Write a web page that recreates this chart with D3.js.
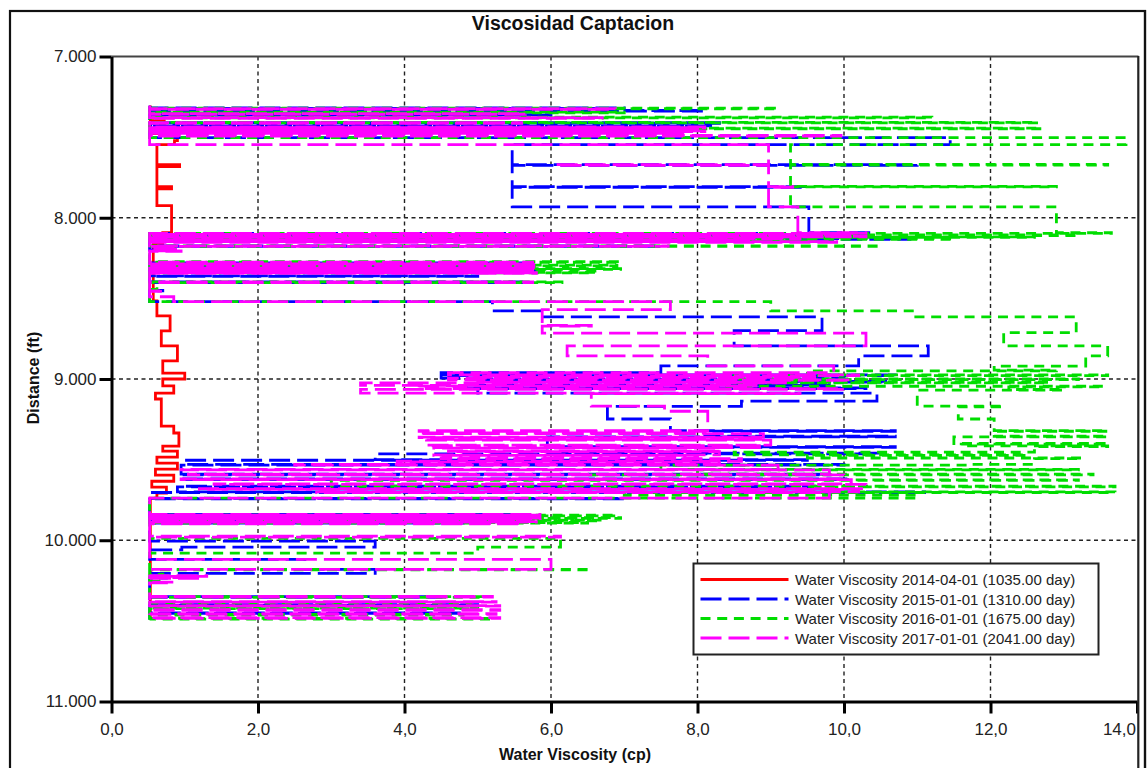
<!DOCTYPE html>
<html>
<head>
<meta charset="utf-8">
<script src="https://cdn.jsdelivr.net/npm/d3@7"></script>
<style>
  body { margin: 0; background: #fff; }
  svg { display: block; }
  text { font-family: Arial, "Liberation Sans", sans-serif; }
</style>
</head>
<body>
<svg id="chart" width="1147" height="768"></svg>
<script>
// Axis ticks
const distTicks = [7, 8, 9, 10, 11];
const viscTicks = [0, 2, 4, 6, 8, 10, 12, 14];

// Legend labels
const seriesLabels = [
  "Water Viscosity 2014-04-01 (1035.00 day)",
  "Water Viscosity 2015-01-01 (1310.00 day)",
  "Water Viscosity 2016-01-01 (1675.00 day)",
  "Water Viscosity 2017-01-01 (2041.00 day)"
];

// Profiles: [distance (ft), water viscosity (cp)] — each value holds from its distance down to the next one
const visc2014 = [
  [7.304,0.53],[7.398,0.72],[7.447,0.55],[7.478,0.9],[7.522,0.86],[7.547,0.62],
  [7.671,0.93],[7.683,0.62],[7.807,0.82],[7.82,0.62],[7.925,0.82],[8.093,0.70],
  [8.16,0.57],[8.516,0.62],[8.609,0.8],[8.702,0.68],[8.795,0.9],[8.888,0.7],
  [8.963,1.0],[9.0,0.7],[9.043,0.85],[9.087,0.6],[9.124,0.68],[9.292,0.85],
  [9.335,0.92],[9.416,0.7],[9.447,0.9],[9.484,0.62],[9.522,0.9],[9.559,0.6],
  [9.596,0.85],[9.634,0.55],[9.671,0.75],[9.708,0.62],[9.739,0.53],[10.491,0.53]
];

const visc2015 = [
  [7.305,0.52],[7.318,7.0],[7.322,0.52],[7.335,8.1],[7.339,0.52],[7.36,6.0],[7.364,0.52],
  [7.41,8.3],[7.414,0.52],[7.43,8.2],[7.434,0.52],[7.47,7.6],[7.474,0.52],
  [7.503,11.45],[7.547,5.47],[7.671,11.0],[7.675,5.47],[7.807,9.5],[7.811,5.47],
  [7.932,9.52],[8.093,10.4],[8.097,0.52],
  [8.104,10.2],[8.108,0.52],[8.118,9.8],[8.122,0.52],[8.13,10.9],[8.134,0.52],
  [8.174,7.5],[8.178,0.52],[8.2,0.8],[8.204,0.52],
  [8.28,5.7],[8.284,0.52],[8.3,5.5],[8.304,0.52],[8.33,5.8],[8.334,0.52],
  [8.36,5.0],[8.364,0.52],[8.398,5.6],[8.402,0.52],[8.45,0.7],[8.454,0.52],
  [8.52,5.2],[8.578,5.88],[8.615,9.7],[8.70,8.5],[8.795,11.15],[8.857,10.2],
  [8.919,7.5],[8.96,4.5],
  [8.975,10.7],[8.979,4.5],[8.995,10.0],[8.999,5.1],[9.015,10.6],[9.019,5.2],
  [9.035,9.8],[9.039,4.8],[9.055,10.3],[9.059,5.0],[9.087,10.45],[9.137,8.6],
  [9.17,6.77],[9.248,7.63],
  [9.32,10.7],[9.324,8.1],[9.355,10.7],[9.359,5.95],[9.42,10.7],[9.424,5.95],
  [9.46,10.5],[9.464,3.6],[9.50,9.5],[9.504,1.0],[9.53,10.0],[9.534,0.95],
  [9.59,9.8],[9.594,0.95],[9.62,10.1],[9.624,1.0],[9.665,9.6],[9.669,0.9],
  [9.70,11.1],[9.704,0.52],[9.74,7.0],[9.744,0.52],
  [9.84,5.5],[9.844,0.52],[9.87,5.2],[9.874,0.52],[9.89,4.8],[9.894,0.52],
  [10.006,3.6],[10.043,0.96],[10.06,0.52],[10.118,2.64],[10.18,3.6],[10.205,0.52],
  [10.23,0.75],[10.234,0.52],
  [10.35,4.5],[10.354,0.52],[10.40,5.0],[10.404,0.52],[10.45,4.8],[10.454,0.52],
  [10.491,0.52]
];

const visc2016 = [
  [7.31,0.52],[7.32,9.1],[7.324,0.52],[7.345,7.0],[7.349,0.52],[7.376,11.2],[7.38,0.52],
  [7.408,12.65],[7.412,0.52],[7.444,12.7],[7.448,0.52],[7.466,7.5],[7.47,0.52],
  [7.503,13.85],[7.547,9.27],[7.669,13.6],[7.673,9.27],[7.805,12.9],[7.809,9.27],
  [7.932,12.9],
  [8.093,13.65],[8.097,0.52],[8.106,13.2],[8.11,0.52],[8.118,12.6],[8.122,0.52],
  [8.13,11.5],[8.134,0.52],[8.142,9.6],[8.146,0.52],[8.174,10.5],[8.178,0.52],
  [8.272,6.95],[8.276,0.52],[8.294,6.9],[8.298,0.52],[8.316,6.95],[8.32,0.52],
  [8.338,6.6],[8.342,0.52],[8.398,6.15],[8.402,0.52],[8.44,0.62],[8.445,0.52],
  [8.52,9.0],[8.578,10.98],[8.615,13.17],[8.712,12.18],[8.795,13.6],[8.857,13.3],
  [8.92,12.05],[8.945,12.9],[8.95,9.5],
  [8.975,13.6],[8.979,8.5],[9.00,13.2],[9.004,9.0],[9.02,12.8],[9.024,8.3],
  [9.045,13.55],[9.049,12.25],[9.065,13.0],[9.069,11.0],[9.168,12.18],[9.172,11.56],
  [9.248,12.05],
  [9.32,13.6],[9.324,12.05],[9.355,13.6],[9.359,11.5],[9.40,13.6],[9.404,11.6],
  [9.415,13.6],[9.419,12.6],[9.45,12.6],[9.454,8.5],[9.47,12.5],[9.474,9.5],
  [9.49,13.25],[9.494,12.6],[9.53,11.7],[9.534,7.5],[9.56,13.2],[9.564,8.0],
  [9.59,13.4],[9.594,6.5],[9.625,13.2],[9.629,3.0],[9.665,13.7],[9.669,9.5],
  [9.70,13.7],[9.704,7.0],[9.72,11.0],[9.739,0.52],
  [9.845,6.9],[9.849,0.52],[9.86,6.95],[9.864,0.52],[9.875,6.7],[9.879,0.52],
  [9.89,6.5],[9.894,0.52],
  [9.988,6.13],[10.043,5.0],[10.08,0.52],[10.18,6.54],[10.184,0.52],
  [10.21,0.7],[10.214,0.52],[10.25,0.65],[10.254,0.52],
  [10.35,5.1],[10.354,0.52],[10.385,4.9],[10.389,0.52],[10.42,5.0],[10.424,0.52],
  [10.46,4.8],[10.464,0.52],[10.485,5.2],[10.489,0.52],[10.491,0.52]
];

const visc2017 = [
  [7.305,0.52],[7.323,6.88],[7.327,0.52],[7.354,5.65],[7.358,0.52],[7.379,6.7],[7.383,0.52],
  [7.41,5.6],[7.414,0.52],[7.437,8.1],[7.441,0.52],[7.449,8.0],[7.453,0.52],
  [7.461,8.1],[7.465,0.52],[7.472,7.8],[7.476,0.52],[7.489,9.96],[7.493,0.52],
  [7.547,8.97],[7.671,6.06],[7.675,8.97],[7.807,9.3],[7.811,8.97],[7.932,9.37],
  [8.093,10.3],[8.097,0.52],[8.104,10.1],[8.108,0.52],[8.115,10.3],[8.119,0.52],
  [8.126,9.4],[8.13,0.52],[8.137,8.7],[8.141,0.52],[8.148,9.9],[8.152,0.52],
  [8.174,7.6],[8.178,0.52],[8.19,0.92],[8.194,0.52],[8.205,0.95],[8.209,0.52],
  [8.275,5.75],[8.279,0.52],[8.286,5.8],[8.29,0.52],[8.297,5.7],[8.301,0.52],
  [8.308,5.8],[8.312,0.52],[8.319,5.75],[8.323,0.52],[8.33,5.6],[8.334,0.52],
  [8.341,5.8],[8.345,0.52],[8.398,5.75],[8.402,0.52],[8.453,0.72],[8.457,0.52],
  [8.49,0.85],[8.52,7.63],[8.57,5.88],[8.668,6.55],[8.672,5.88],[8.715,10.3],
  [8.795,6.22],[8.857,8.14],[8.919,9.86],[8.96,4.6],
  [8.975,10.2],[8.979,4.95],[8.99,9.6],[8.994,4.6],[9.005,10.1],[9.009,5.0],
  [9.02,9.2],[9.024,3.4],[9.04,8.8],[9.044,4.2],[9.06,10.0],[9.064,3.4],
  [9.087,9.4],[9.091,6.55],[9.168,7.55],[9.2,8.14],
  [9.32,4.2],[9.324,8.1],[9.335,4.2],[9.339,8.9],[9.36,4.2],[9.364,8.9],
  [9.375,4.3],[9.379,9.0],[9.41,4.3],[9.414,8.9],[9.425,4.4],[9.429,8.3],
  [9.447,4.6],[9.451,8.3],[9.47,4.4],[9.474,8.0],[9.49,4.5],[9.494,8.6],
  [9.51,3.9],[9.514,8.3],[9.53,2.5],[9.534,9.1],[9.56,0.95],[9.564,9.8],
  [9.59,1.05],[9.594,10.0],[9.62,0.95],[9.624,10.1],[9.65,1.4],[9.654,10.3],
  [9.68,1.2],[9.684,10.2],[9.70,2.8],[9.704,9.8],[9.739,0.52],
  [9.84,5.85],[9.844,0.52],[9.851,5.8],[9.855,0.52],[9.862,5.85],[9.866,0.52],
  [9.873,5.7],[9.877,0.52],[9.884,5.8],[9.888,0.52],[9.895,5.6],[9.899,0.52],
  [9.975,6.13],[9.98,0.52],[10.118,6.0],[10.18,0.52],
  [10.22,1.3],[10.224,0.52],[10.232,1.2],[10.236,0.52],[10.26,0.85],[10.264,0.52],
  [10.348,5.2],[10.352,0.52],[10.38,5.25],[10.384,0.52],[10.405,5.3],[10.409,0.52],
  [10.43,5.3],[10.434,0.52],[10.455,5.25],[10.459,0.52],[10.48,5.3],[10.484,0.52],
  [10.491,0.52]
];

const seriesData = [visc2014, visc2015, visc2016, visc2017];
const seriesColors = ["#ff0000", "#0000ff", "#00dd00", "#ff00ff"];
const seriesDashes = [null, "21,7", "10,6.7", "21,7"];

const svg = d3.select("#chart");
const W = 1147, H = 768;

const x = d3.scaleLinear().domain([0, 14]).range([111.5, 1137]);
const y = d3.scaleLinear().domain([7, 11]).range([56.5, 701.5]);

// outer frame
svg.append("rect")
  .attr("x", 10).attr("y", 11).attr("width", 1135).attr("height", 800)
  .attr("fill", "#fff").attr("stroke", "#111").attr("stroke-width", 2.2);

// title
svg.append("text")
  .attr("x", 573).attr("y", 30)
  .attr("text-anchor", "middle")
  .attr("font-size", 19.5).attr("font-weight", "bold").attr("fill", "#111")
  .text("Viscosidad Captacion");

// grid
const grid = svg.append("g").attr("stroke", "#222").attr("stroke-width", 1.4)
  .attr("stroke-dasharray", "4,3.5");
grid.selectAll(".gx").data(viscTicks.filter(v => v > 0 && v < 14)).join("line")
  .attr("x1", d => x(d)).attr("x2", d => x(d))
  .attr("y1", y(7)).attr("y2", y(11));
grid.selectAll(".gy").data(distTicks.filter(v => v > 7 && v < 11)).join("line")
  .attr("x1", x(0)).attr("x2", x(14))
  .attr("y1", d => y(d)).attr("y2", d => y(d));

// plot frame top
svg.append("line").attr("x1", x(0)).attr("x2", 1138.5).attr("y1", 56.5).attr("y2", 56.5)
  .attr("stroke", "#444").attr("stroke-width", 2);

// series
const line = d3.line()
  .x(d => x(d[1]))
  .y(d => y(d[0]))
  .curve(d3.curveStepBefore);

const plot = svg.append("g");
seriesData.forEach((data, i) => {
  plot.append("path")
    .datum(data)
    .attr("d", line)
    .attr("fill", "none")
    .attr("stroke", seriesColors[i])
    .attr("stroke-width", 2.8)
    .attr("stroke-dasharray", seriesDashes[i])
    .attr("stroke-linejoin", "miter");
});

// axes
const fmtY = d3.format(".3f");
const commaLocale = d3.formatLocale({ decimal: ",", thousands: ".", grouping: [3], currency: ["", ""] });
const fmtX = commaLocale.format(".1f");

const yAxis = svg.append("g")
  .attr("transform", `translate(${x(0)},0)`)
  .call(d3.axisLeft(y).tickValues(distTicks).tickFormat(fmtY).tickSize(12).tickSizeOuter(0).tickPadding(3));
const xAxis = svg.append("g")
  .attr("transform", `translate(0,${y(11)})`)
  .call(d3.axisBottom(x).tickValues(viscTicks).tickFormat(fmtX).tickSize(12).tickSizeOuter(0).tickPadding(9));

[yAxis, xAxis].forEach(g => {
  g.select(".domain").attr("stroke", "#000").attr("stroke-width", 3);
  g.selectAll(".tick line").attr("stroke", "#000").attr("stroke-width", 3);
  g.selectAll(".tick text").attr("font-size", 17).attr("fill", "#222")
    .attr("font-family", "Arial, 'Liberation Sans', sans-serif");
});
// last x label sits against the right border
xAxis.selectAll(".tick text").filter(d => d === 14)
  .attr("text-anchor", "end").attr("x", -1.5);

// right border of plot and outer frame edge
svg.append("line").attr("x1", 1138.3).attr("x2", 1138.3).attr("y1", 56).attr("y2", H)
  .attr("stroke", "#222").attr("stroke-width", 2.2);
svg.append("line").attr("x1", 1145).attr("x2", 1145).attr("y1", 10).attr("y2", H)
  .attr("stroke", "#111").attr("stroke-width", 2.2);

// axis titles
svg.append("text")
  .attr("x", 575).attr("y", 760)
  .attr("text-anchor", "middle")
  .attr("font-size", 16).attr("font-weight", "bold").attr("fill", "#111")
  .text("Water Viscosity (cp)");
svg.append("text")
  .attr("transform", "translate(39,378) rotate(-90)")
  .attr("text-anchor", "middle")
  .attr("font-size", 16).attr("font-weight", "bold").attr("fill", "#111")
  .text("Distance (ft)");

// legend
const legend = svg.append("g");
legend.append("rect")
  .attr("x", 693.5).attr("y", 563.5).attr("width", 405).attr("height", 91)
  .attr("fill", "#fff").attr("stroke", "#222").attr("stroke-width", 2);
const rowY = [579.5, 599, 618.5, 638];
seriesLabels.forEach((lab, i) => {
  legend.append("line")
    .attr("x1", 700.5).attr("x2", 788.5).attr("y1", rowY[i]).attr("y2", rowY[i])
    .attr("stroke", seriesColors[i]).attr("stroke-width", 3)
    .attr("stroke-dasharray", seriesDashes[i]);
  legend.append("text")
    .attr("x", 795).attr("y", rowY[i] + 5.5)
    .attr("font-size", 15).attr("fill", "#222")
    .text(lab);
});
</script>
</body>
</html>
